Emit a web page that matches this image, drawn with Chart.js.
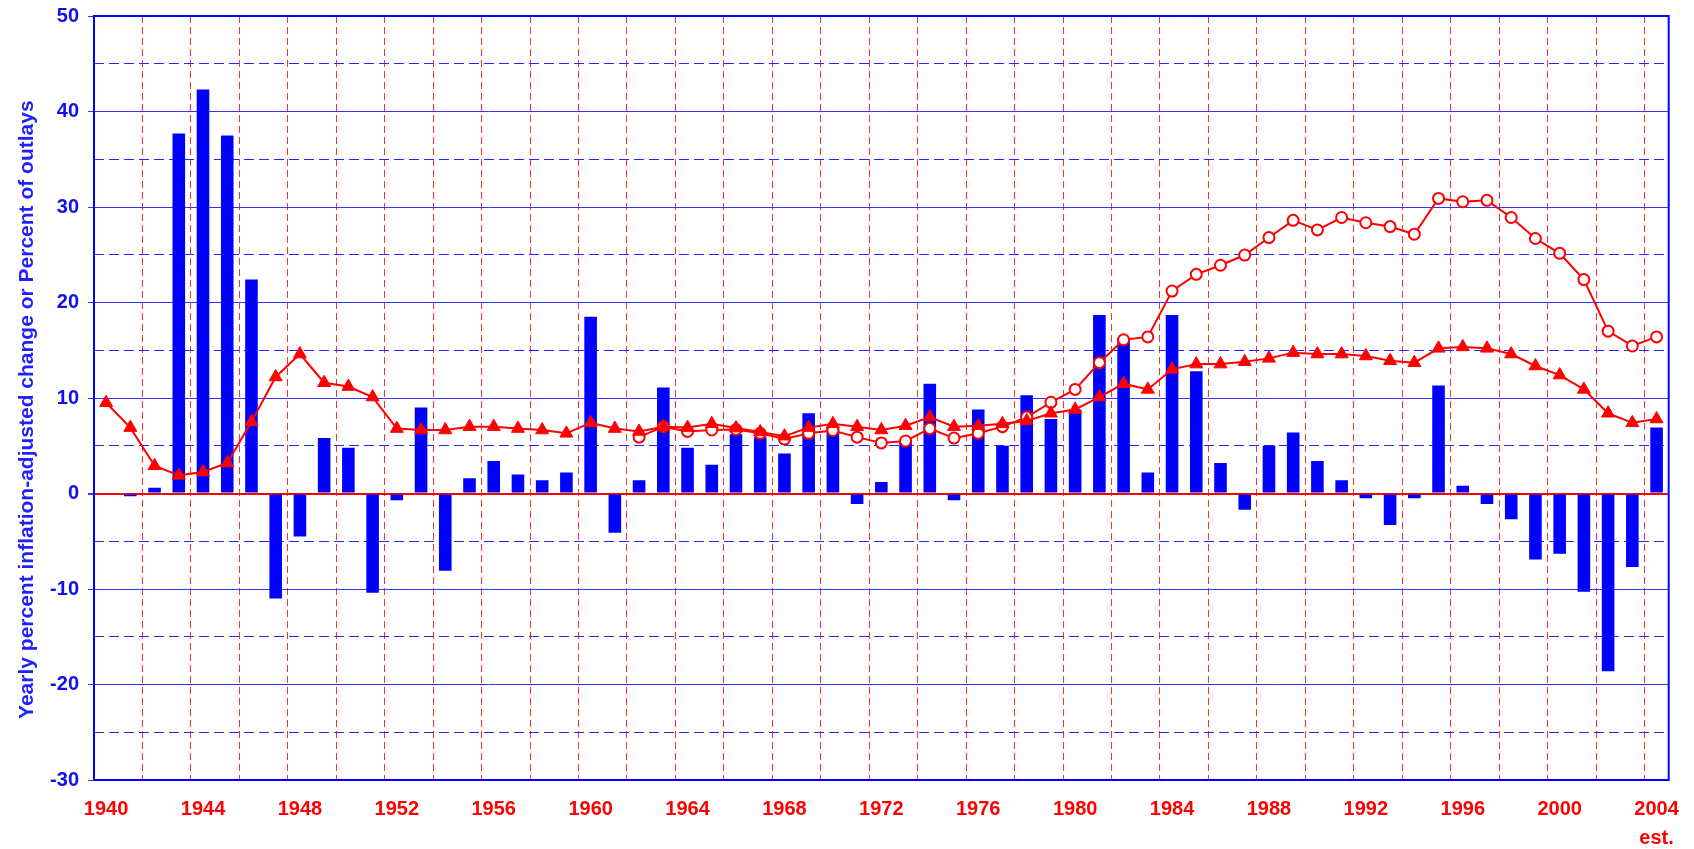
<!DOCTYPE html>
<html>
<head>
<meta charset="utf-8">
<title>Yearly percent change</title>
<script src="https://cdn.jsdelivr.net/npm/chart.js@4.4.1/dist/chart.umd.min.js"></script>
<style>
	html, body { margin: 0; padding: 0; background: #ffffff; }
	#wrap { width: 1694px; height: 849px; position: relative; }
</style>
</head>
<body>
<div id="wrap"><canvas id="chart"></canvas></div>
<script>
// Fiscal years on the category axis
var years = ['1940', '1941', '1942', '1943', '1944', '1945', '1946', '1947', '1948', '1949',
	'1950', '1951', '1952', '1953', '1954', '1955', '1956', '1957', '1958', '1959',
	'1960', '1961', '1962', '1963', '1964', '1965', '1966', '1967', '1968', '1969',
	'1970', '1971', '1972', '1973', '1974', '1975', '1976', '1977', '1978', '1979',
	'1980', '1981', '1982', '1983', '1984', '1985', '1986', '1987', '1988', '1989',
	'1990', '1991', '1992', '1993', '1994', '1995', '1996', '1997', '1998', '1999',
	'2000', '2001', '2002', '2003', '2004'];
var lastYearNote = 'est.';

// Blue bars: yearly percent inflation-adjusted change
var yearlyChange = [null, -0.3, 0.6, 37.7, 42.3, 37.5, 22.4, -11.0, -4.5, 5.8,
	4.8, -10.4, -0.7, 9.0, -8.1, 1.6, 3.4, 2.0, 1.4, 2.2,
	18.5, -4.1, 1.4, 11.1, 4.8, 3.0, 6.2, 5.9, 4.2, 8.4,
	7.0, -1.1, 1.2, 5.4, 11.5, -0.7, 8.8, 5.0, 10.3, 7.8,
	8.8, 18.7, 16.3, 2.2, 18.7, 12.8, 3.2, -1.7, 5.0, 6.4,
	3.4, 1.4, -0.5, -3.3, -0.5, 11.3, 0.8, -1.1, -2.7, -6.9,
	-6.3, -10.3, -18.6, -7.7, 6.9];

// Red triangles: percent of outlays
var pctOutlaysA = [9.5, 6.9, 2.9, 1.9, 2.25, 3.2, 7.5, 12.2, 14.6, 11.6,
	11.2, 10.1, 6.8, 6.65, 6.65, 7.0, 7.0, 6.8, 6.65, 6.3,
	7.4, 6.8, 6.5, 7.0, 6.9, 7.3, 6.85, 6.45, 6.0, 6.9,
	7.3, 7.0, 6.65, 7.1, 8.0, 7.0, 7.1, 7.3, 7.6, 8.4,
	8.8, 10.1, 11.5, 10.9, 13.0, 13.55, 13.55, 13.8, 14.15, 14.75,
	14.6, 14.6, 14.4, 13.9, 13.7, 15.2, 15.35, 15.2, 14.6, 13.35,
	12.4, 10.9, 8.4, 7.4, 7.8];

// Red open circles: percent of outlays (from 1962)
var pctOutlaysB = [null, null, null, null, null, null, null, null, null, null,
	null, null, null, null, null, null, null, null, null, null,
	null, null, 5.9, 7.0, 6.5, 6.65, 6.7, 6.3, 5.7, 6.3,
	6.6, 5.9, 5.3, 5.5, 6.8, 5.8, 6.3, 7.0, 8.0, 9.55,
	10.9, 13.7, 16.1, 16.4, 21.2, 22.95, 23.9, 24.97, 26.8, 28.6,
	27.6, 28.9, 28.35, 27.95, 27.15, 30.9, 30.55, 30.7, 28.9, 26.7,
	25.15, 22.4, 17.0, 15.45, 16.4];

var yMin = -30, yMax = 50;
// trailing no-break spaces nudge the rotated title a little lower, as in the original
var yTitle = 'Yearly percent inflation-adjusted change or Percent of outlays\u00a0\u00a0\u00a0\u00a0';

var BLUE = '#0000ff';
var GRID_BLUE = '#3535ff';
var RED = '#ff0000';
var FONT = 'Liberation Sans, Arial, Helvetica, sans-serif';

// Frame round the plot area (top and right edges are not drawn by the axes)
var framePlugin = {
	id: 'frame',
	afterDraw: function (chart) {
		var a = chart.chartArea, ctx = chart.ctx;
		ctx.save();
		ctx.strokeStyle = BLUE;
		ctx.lineWidth = 2;
		ctx.strokeRect(a.left, a.top, a.right - a.left, a.bottom - a.top);
		ctx.restore();
	}
};

var chartData = {
	labels: years,
	datasets: [
		{
			type: 'line',
			data: pctOutlaysA,
			order: 1,
			borderColor: RED,
			backgroundColor: RED,
			borderWidth: 2,
			tension: 0,
			pointStyle: 'triangle',
			pointRadius: 7.5,
			pointBorderWidth: 1,
			pointBackgroundColor: RED,
			pointBorderColor: RED
		},
		{
			type: 'line',
			data: pctOutlaysB,
			order: 2,
			borderColor: RED,
			backgroundColor: '#ffffff',
			borderWidth: 2,
			tension: 0,
			pointStyle: 'circle',
			pointRadius: 5.5,
			pointBorderWidth: 2,
			pointBackgroundColor: '#ffffff',
			pointBorderColor: RED
		},
		{
			type: 'bar',
			data: yearlyChange,
			order: 3,
			backgroundColor: BLUE,
			borderWidth: 0,
			categoryPercentage: 1,
			barPercentage: 0.52
		}
	]
};

var chart = new Chart(document.getElementById('chart'), {
	type: 'bar',
	data: chartData,
	plugins: [framePlugin],
	options: {
		responsive: true,
		maintainAspectRatio: false,
		animation: false,
		layout: { padding: { left: 0, top: 16, right: 24, bottom: 0 } },
		plugins: { legend: { display: false }, tooltip: { enabled: false } },
		scales: {
			x: {
				offset: true,
				grid: {
					offset: true,
					drawTicks: false,
					lineWidth: 1,
					color: function (c) {
						return (c.index % 2 === 0 && c.index > 0 && c.index < years.length) ? '#ff3030' : 'rgba(0,0,0,0)';
					}
				},
				border: { display: true, color: BLUE, width: 2, dash: [7, 4] },
				ticks: {
					autoSkip: false,
					maxRotation: 0,
					padding: 15,
					color: RED,
					font: { family: FONT, size: 20, weight: 'bold', lineHeight: 1.45 },
					callback: function (v, i) {
						if (i % 4 !== 0) return '';
						if (i === years.length - 1) return [years[i], lastYearNote];
						return years[i];
					}
				},
				afterFit: function (s) { s.height = 69; }
			},
			y: {
				position: 'left',
				min: yMin,
				max: yMax,
				ticks: {
					stepSize: 10,
					padding: 9,
					color: '#1010ee',
					font: { family: FONT, size: 20, weight: 'bold' }
				},
				grid: {
					tickLength: 6,
					tickColor: GRID_BLUE,
					color: function (c) { return c.tick && c.tick.value === 0 ? RED : GRID_BLUE; },
					lineWidth: function (c) { return c.tick && c.tick.value === 0 ? 2 : 1; }
				},
				border: { display: true, color: BLUE, width: 2 },
				title: {
					display: true,
					text: yTitle,
					color: '#1f1fff',
					font: { family: FONT, size: 21, weight: 'bold', lineHeight: 1.2 },
					padding: { top: 15, bottom: 0 }
				},
				afterFit: function (s) {
					s.width = 94;
					// let the plot top sit at the layout padding, labels may overhang
					s.paddingTop = 0;
					s.paddingBottom = 0;
				}
			},
			// second axis only for the dashed half-step lines
			y2: {
				position: 'left',
				min: yMin,
				max: yMax,
				ticks: { stepSize: 5, display: false },
				grid: {
					drawTicks: false,
					lineWidth: 1,
					color: function (c) { return c.tick && c.tick.value % 10 !== 0 ? '#2525ff' : 'rgba(0,0,0,0)'; }
				},
				border: { display: false, dash: [10, 5] },
				afterFit: function (s) { s.width = 0; }
			}
		}
	}
});
</script>
</body>
</html>
